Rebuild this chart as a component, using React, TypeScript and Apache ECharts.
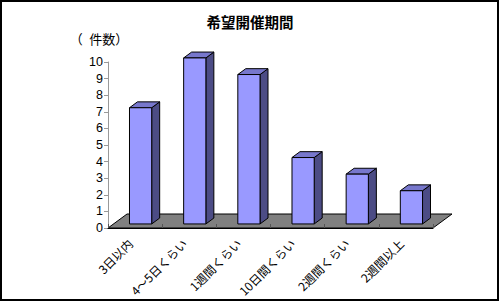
import React, { useEffect, useRef } from "react";
import * as echarts from "echarts";

const TITLE = "希望開催期間";
const Y_NAME = "（\u2002件数）";
const CATEGORIES = ["3日以内", "4～5日くらい", "1週間くらい", "10日間くらい", "2週間くらい", "2週間以上"];
const VALUES = [7, 10, 9, 4, 3, 2];
const Y_MIN = 0;
const Y_MAX = 10;
const Y_INTERVAL = 1;

// 3D look (styling, pixels)
const FLOOR_DX = 19;
const FLOOR_DY = -14;
const BAR_FRONT = 0.29;
const BAR_DEPTH = 0.42;
const BAR_RATIO = 0.41;

const FRONT = "#9999FF";
const TOP = "#7777CC";
const SIDE = "#4C4C85";
const FLOOR = "#808080";

export default function App() {
  const ref = useRef<HTMLDivElement>(null);
  useEffect(() => {
    if (!ref.current) return;
    const chart = echarts.init(ref.current, undefined, { renderer: "svg" });
    const barData = VALUES.map((v, i) => [i, v]);
    const option: any = {
      animation: false,
      backgroundColor: "#ffffff",
      title: {
        text: TITLE,
        left: "center",
        top: 9,
        textStyle: { fontSize: 14.5, fontWeight: "bold", color: "#000", fontFamily: "Noto Sans CJK JP" },
      },
      graphic: [
        {
          type: "rect",
          shape: { x: 1, y: 1, width: 497, height: 299 },
          style: { fill: "none", stroke: "#000", lineWidth: 2 },
          z: 100,
        },
        {
          type: "text",
          x: 99,
          y: 38,
          style: {
            text: Y_NAME,
            fontSize: 13,
            fontFamily: "Noto Sans CJK JP",
            fill: "#000",
            align: "center",
            verticalAlign: "middle",
          },
        },
      ],
      grid: { left: 108, right: 67, top: 62, bottom: 74 },
      xAxis: {
        type: "category",
        data: CATEGORIES,
        z: 5,
        axisLine: { show: true, lineStyle: { color: "#000", width: 1 } },
        axisTick: { show: true, inside: true, length: 4, lineStyle: { color: "#555" } },
        axisLabel: {
          interval: 0,
          rotate: 45,
          margin: 8,
          padding: [0, 7, 0, 0],
          fontSize: 12,
          color: "#000",
          fontFamily: "Noto Sans CJK JP",
        },
      },
      yAxis: {
        type: "value",
        min: Y_MIN,
        max: Y_MAX,
        interval: Y_INTERVAL,
        axisLine: { show: true, lineStyle: { color: "#999", width: 1 } },
        axisTick: { show: true, length: 4, lineStyle: { color: "#999" } },
        splitLine: { show: false },
        axisLabel: { fontSize: 12.5, color: "#000", fontFamily: "Liberation Sans", margin: 5 },
      },
      series: [
        {
          type: "custom",
          z: 1,
          data: [[0, 0]],
          encode: { x: 0, y: 1 },
          renderItem: (params: any, api: any) => {
            const catW = api.size([1, 0])[0];
            const p0 = api.coord([0, 0]);
            const p1 = api.coord([CATEGORIES.length - 1, 0]);
            const l = p0[0] - catW / 2;
            const r = p1[0] + catW / 2;
            const y = p0[1];
            return {
              type: "polygon",
              shape: {
                points: [
                  [l, y],
                  [r, y],
                  [r + FLOOR_DX, y + FLOOR_DY],
                  [l + FLOOR_DX, y + FLOOR_DY],
                ],
              },
              style: { fill: FLOOR, stroke: "#000", lineWidth: 1 },
            };
          },
        },
        {
          type: "custom",
          z: 3,
          data: barData,
          encode: { x: 0, y: 1 },
          renderItem: (params: any, api: any) => {
            const idx = api.value(0);
            const v = api.value(1);
            const base = api.coord([idx, 0]);
            const top = api.coord([idx, v]);
            const catW = api.size([1, 0])[0];
            const bw = catW * BAR_RATIO;
            const ox = FLOOR_DX * BAR_FRONT;
            const oy = FLOOR_DY * BAR_FRONT;
            const dx = FLOOR_DX * BAR_DEPTH;
            const dy = FLOOR_DY * BAR_DEPTH;
            const x0 = base[0] - bw / 2 + ox;
            const x1 = x0 + bw;
            const yb = base[1] + oy;
            const yt = top[1] + oy;
            const stroke = { stroke: "#000", lineWidth: 1, lineJoin: "round" };
            return {
              type: "group",
              children: [
                {
                  type: "polygon",
                  shape: { points: [[x1, yb], [x1, yt], [x1 + dx, yt + dy], [x1 + dx, yb + dy]] },
                  style: { fill: SIDE, ...stroke },
                },
                {
                  type: "polygon",
                  shape: { points: [[x0, yt], [x1, yt], [x1 + dx, yt + dy], [x0 + dx, yt + dy]] },
                  style: { fill: TOP, ...stroke },
                },
                {
                  type: "polygon",
                  shape: { points: [[x0, yb], [x1, yb], [x1, yt], [x0, yt]] },
                  style: { fill: FRONT, ...stroke },
                },
              ],
            };
          },
        },
      ],
    };
    chart.setOption(option);
    return () => chart.dispose();
  }, []);
  return (
    <div style={{ position: "fixed", left: 0, top: 0, width: 500, height: 302, background: "#fff" }}>
      <div ref={ref} style={{ width: 500, height: 302 }} />
    </div>
  );
}
